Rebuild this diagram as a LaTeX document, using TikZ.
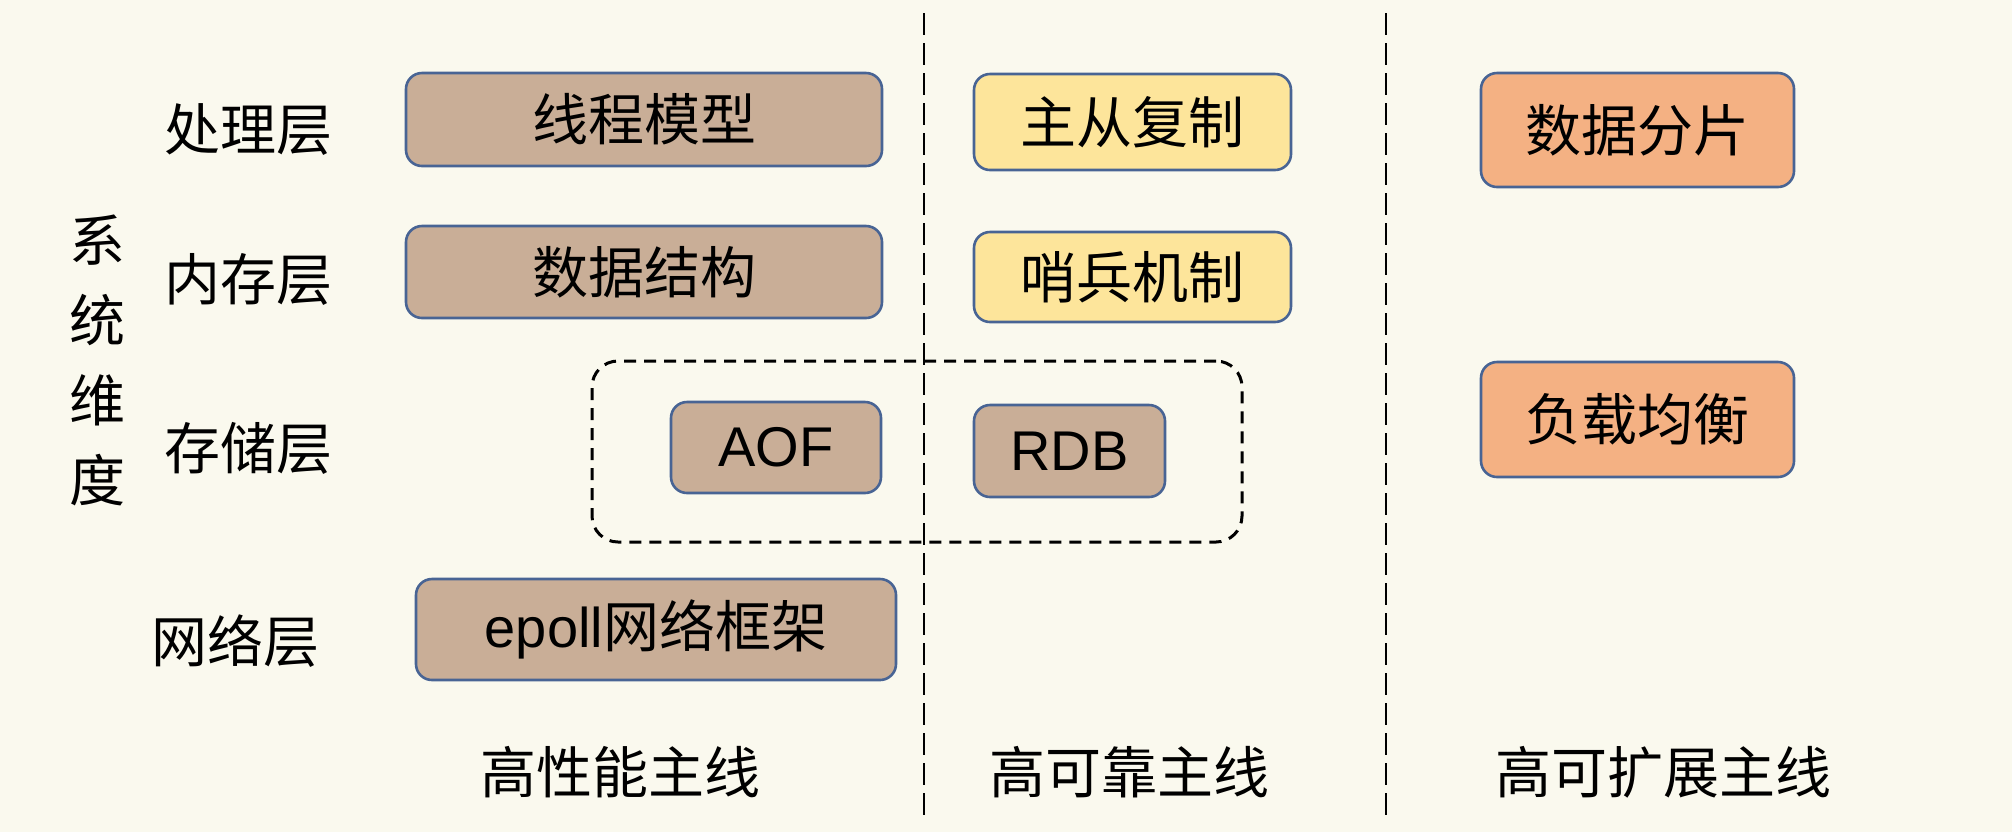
\documentclass[tikz,border=0pt]{standalone}
\usepackage{fontspec}
\setmainfont{Liberation Sans}
\newfontfamily\cjk{Noto Sans CJK SC}
\definecolor{bgc}{RGB}{250,249,238}
\definecolor{brownc}{RGB}{201,174,151}
\definecolor{yellowc}{RGB}{253,229,155}
\definecolor{orangec}{RGB}{244,177,131}
\definecolor{borderc}{RGB}{72,100,148}
\begin{document}
\begin{tikzpicture}[x=0.5pt,y=-0.5pt,
  txt/.style={font=\cjk\fontsize{28}{40}\selectfont, inner sep=0pt},
  boxbase/.style={draw=borderc, line width=1.3pt, rounded corners=8pt, inner sep=0pt, font=\cjk\fontsize{28}{34}\selectfont},
  brownbox/.style={boxbase, fill=brownc},
  yellowbox/.style={boxbase, fill=yellowc},
  orangebox/.style={boxbase, fill=orangec},
  sepline/.style={line width=1pt, dash pattern=on 11pt off 4pt},
  groupbox/.style={draw=black, line width=1.5pt, dash pattern=on 6pt off 4pt, rounded corners=13pt, inner sep=0pt}
]
\fill[bgc] (0,0) rectangle (2012,832);
\useasboundingbox (0,0) rectangle (2012,832);

% separators
\coordinate (s1top) at (924,13);
\coordinate (s1bot) at (924,815);
\coordinate (s2top) at (1386,13);
\coordinate (s2bot) at (1386,815);

% group box for persistence
\node[groupbox, minimum width=325pt, minimum height=90.5pt] (grp) at (917,451.5) {};

\draw[sepline] (s1top) -- (s1bot);
\draw[sepline] (s2top) -- (s2bot);

% left labels
\node[txt, align=center] (sysdim) at (97,360) {系\\统\\维\\度};
\node[txt] (lproc) at (248,130) {处理层};
\node[txt] (lmem) at (248,279) {内存层};
\node[txt] (lstore) at (248,448) {存储层};
\node[txt] (lnet) at (235,641) {网络层};

% high performance column
\node[brownbox, minimum width=238pt, minimum height=46.5pt] (thread) at (644,119.5) {线程模型};
\node[brownbox, minimum width=238pt, minimum height=46pt] (ds) at (644,272) {数据结构};
\node[brownbox, minimum width=105pt, minimum height=45.5pt, font=\fontsize{28}{34}\selectfont] (aof) at (776,447.5) {AOF};
\node[brownbox, minimum width=240pt, minimum height=50.5pt] (epoll) at (656,629.5) {{\fontspec{Liberation Sans}epoll}网络框架};

% high reliability column
\node[yellowbox, minimum width=158.5pt, minimum height=48pt] (repl) at (1132.5,122) {主从复制};
\node[yellowbox, minimum width=158.5pt, minimum height=45pt] (sentinel) at (1132.5,277) {哨兵机制};
\node[brownbox, minimum width=95.5pt, minimum height=46pt, font=\fontsize{28}{34}\selectfont] (rdb) at (1069.5,451) {RDB};

% high scalability column
\node[orangebox, minimum width=156.5pt, minimum height=57pt] (shard) at (1637.5,130) {数据分片};
\node[orangebox, minimum width=156.5pt, minimum height=57.5pt] (lb) at (1637.5,419.5) {负载均衡};

% bottom labels
\node[txt] (hp) at (620,772) {高性能主线};
\node[txt] (hr) at (1129,772) {高可靠主线};
\node[txt] (hs) at (1663,772) {高可扩展主线};
\end{tikzpicture}
\end{document}
